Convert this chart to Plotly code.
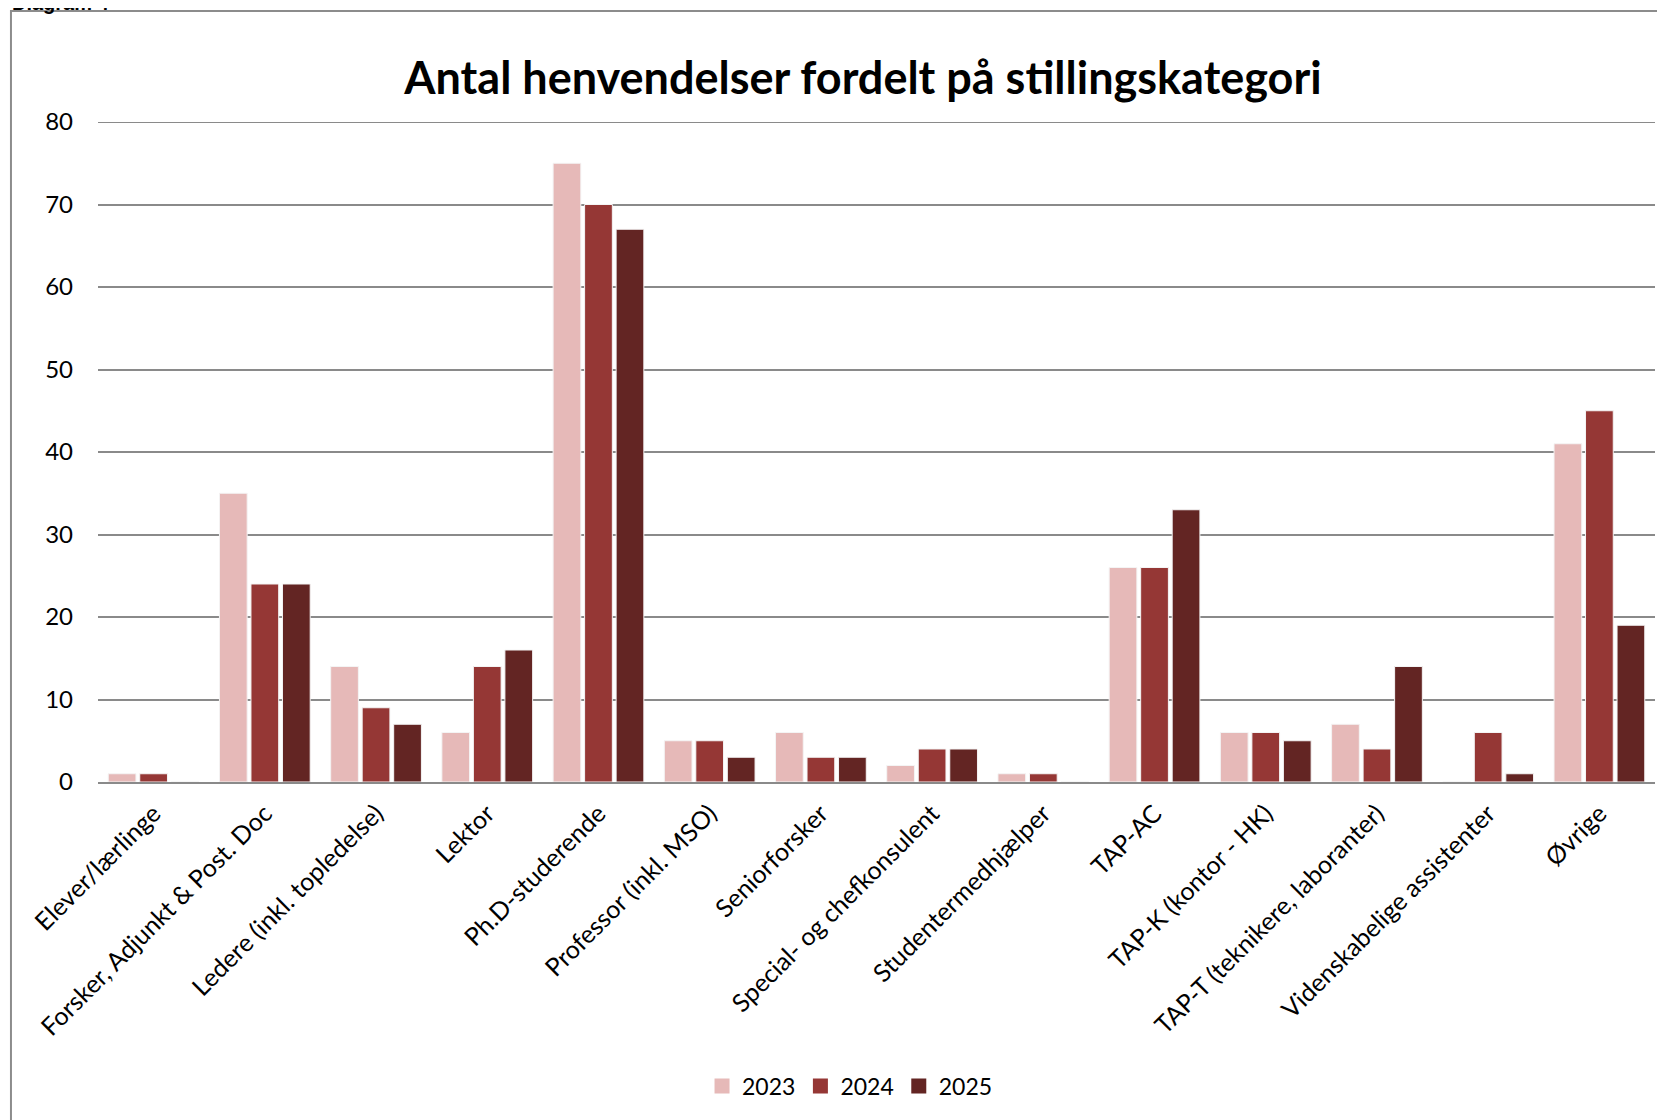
import plotly.graph_objects as go

# categories and values
categories = [
    "Elever/lærlinge",
    "Forsker, Adjunkt & Post. Doc",
    "Ledere (inkl. topledelse)",
    "Lektor",
    "Ph.D-studerende",
    "Professor (inkl. MSO)",
    "Seniorforsker",
    "Special- og chefkonsulent",
    "Studentermedhjælper",
    "TAP-AC",
    "TAP-K (kontor - HK)",
    "TAP-T (teknikere, laboranter)",
    "Videnskabelige assistenter",
    "Øvrige",
]
values_2023 = [1, 35, 14, 6, 75, 5, 6, 2, 1, 26, 6, 7, 0, 41]
values_2024 = [1, 24, 9, 14, 70, 5, 3, 4, 1, 26, 6, 4, 6, 45]
values_2025 = [0, 24, 7, 16, 67, 3, 3, 4, 0, 33, 5, 14, 1, 19]
years = ["2023", "2024", "2025"]
y_ticks = [0, 10, 20, 30, 40, 50, 60, 70, 80]

colors = {"2023": "#E6B9B8", "2024": "#953735", "2025": "#632523"}
font = "Lato, 'Open Sans', sans-serif"
grid_color = "#8a8a8a"

fig = go.Figure()
for year, vals in zip(years, [values_2023, values_2024, values_2025]):
    fig.add_trace(go.Bar(
        x=categories,
        y=vals,
        name=year,
        marker=dict(color=colors[year], line=dict(color="#f4f4f4", width=1)),
        showlegend=False,
    ))

# legend entries with bigger square swatches (Excel style)
for year in years:
    fig.add_trace(go.Scatter(
        x=[None], y=[None],
        mode="markers",
        name=year,
        marker=dict(symbol="square", size=15, color=colors[year]),
    ))

# top gridline at 80 (plotly skips it at the range edge)
fig.add_hline(y=80, line_color=grid_color, line_width=2, layer="below")

# outer frame of the document chart box
fig.add_shape(
    type="path",
    xref="paper", yref="paper",
    path="M -0.0559 -0.6 L -0.0559 1.168 L 1.03 1.168",
    line=dict(color="#8c8c8c", width=2),
)

# partially cut-off caption above the frame
fig.add_annotation(
    text="<b>Diagram 4</b>",
    xref="paper", yref="paper",
    x=-0.0565, y=1.1605,
    xanchor="left", yanchor="bottom",
    showarrow=False,
    font=dict(family="Liberation Sans, Arial, sans-serif", size=20, color="black"),
)

fig.update_layout(
    width=1665,
    height=1120,
    barmode="group",
    bargap=0.15,
    bargroupgap=0.12,
    plot_bgcolor="white",
    paper_bgcolor="white",
    margin=dict(l=90, r=18, t=114, b=346),
    font=dict(family=font, size=24, color="black"),
    title=dict(
        text="<b>Antal henvendelser fordelt på stillingskategori</b>",
        x=0.5135, xanchor="center",
        y=0.9375, yanchor="middle",
        font=dict(family=font, size=45, color="black"),
    ),
    legend=dict(
        orientation="h",
        x=0.483, xanchor="center",
        y=-0.4606, yanchor="middle",
        font=dict(size=23),
        itemsizing="trace",
        traceorder="normal",
        itemwidth=30,
    ),
    showlegend=True,
)

fig.update_xaxes(
    tickangle=-45,
    showline=True,
    linecolor=grid_color,
    linewidth=2,
    ticks="",
    ticklabelstandoff=5,
    tickfont=dict(size=25),
)
fig.update_yaxes(
    range=[0, 80],
    tickvals=y_ticks,
    showgrid=True,
    gridcolor=grid_color,
    gridwidth=2,
    zeroline=False,
    ticks="",
    ticklabelstandoff=24,
    tickfont=dict(size=24),
)

fig.write_html("out.html")
